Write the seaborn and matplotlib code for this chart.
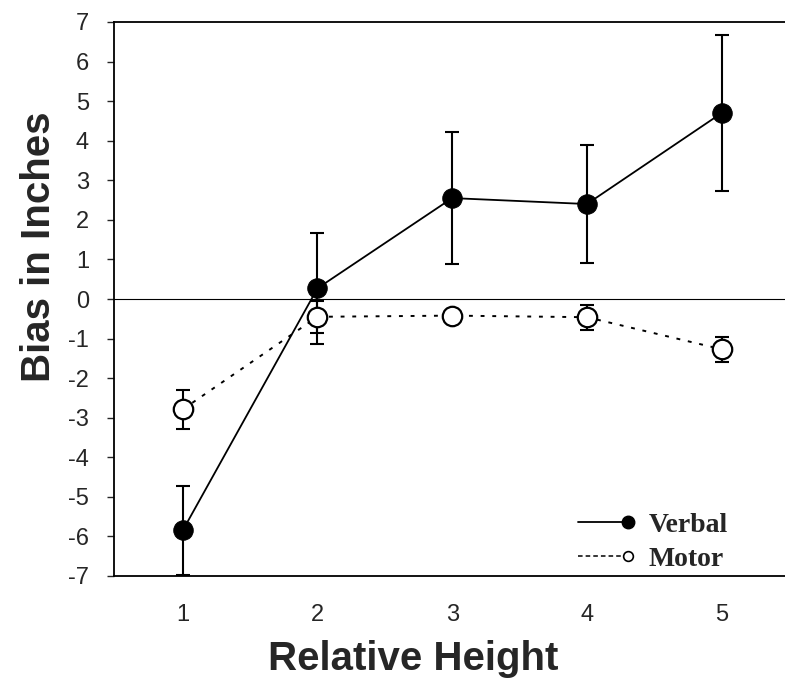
import numpy as np
import pandas as pd
import matplotlib
matplotlib.use("Agg")
import matplotlib.pyplot as plt
from matplotlib.lines import Line2D
from matplotlib.legend_handler import HandlerLine2D
import seaborn as sns

# values
heights = [1, 2, 3, 4, 5]
verbal_mean = [-5.85, 0.27, 2.55, 2.40, 4.70]
verbal_err = [1.12, 1.41, 1.66, 1.48, 1.98]
motor_mean = [-2.79, -0.45, -0.42, -0.46, -1.27]
motor_err = [0.50, 0.40, 0.12, 0.32, 0.31]

df = pd.DataFrame({
    "height": heights * 2,
    "bias": verbal_mean + motor_mean,
    "cond": ["Verbal"] * 5 + ["Motor"] * 5,
})

sns.set_style("white")
plt.rcParams["font.family"] = ["Liberation Sans", "DejaVu Sans"]
plt.rcParams["axes.unicode_minus"] = False


class EndMarkerHandler(HandlerLine2D):
    # line across the handle, marker only at its right end
    def create_artists(self, legend, orig_handle, xdescent, ydescent,
                       width, height, fontsize, trans):
        y = (height - ydescent) / 2
        line = Line2D([-xdescent, width - xdescent], [y, y])
        self.update_prop(line, orig_handle, legend)
        line.set_marker("")
        mark = Line2D([width - xdescent], [y])
        self.update_prop(mark, orig_handle, legend)
        mark.set_linestyle("None")
        line.set_transform(trans)
        mark.set_transform(trans)
        return [line, mark]


fig = plt.figure(figsize=(7.85, 6.81), dpi=100)
ax = fig.add_axes([114 / 785, 1 - 576 / 681, 1 - 114 / 785, (576 - 22) / 681])

ax.axhline(0, color="black", lw=0.8, zorder=1)

# error bars first so markers sit on top
ax.errorbar(heights, verbal_mean, yerr=verbal_err, fmt="none", ecolor="black",
            elinewidth=1.5, capsize=4.7, capthick=1.5, zorder=2)
ax.errorbar(heights, motor_mean, yerr=motor_err, fmt="none", ecolor="black",
            elinewidth=1.5, capsize=4.7, capthick=1.5, zorder=2)

sns.lineplot(data=df[df.cond == "Verbal"], x="height", y="bias", ax=ax,
             color="black", lw=1.3, marker="o", markersize=14,
             markerfacecolor="black", markeredgecolor="black", zorder=3)
sns.lineplot(data=df[df.cond == "Motor"], x="height", y="bias", ax=ax,
             color="black", lw=1.4, linestyle=(0, (2, 4)), marker="o",
             markersize=14, markerfacecolor="white", markeredgecolor="black",
             markeredgewidth=1.6, zorder=3)

ax.set_xlim(0.49, 5.47)
ax.set_ylim(-7, 7)
ax.set_xticks(heights)
ax.set_yticks(range(-7, 8))
ax.tick_params(axis="x", length=0, pad=20, labelsize=17)
ax.tick_params(axis="y", left=True, direction="out", length=5, width=1,
               pad=13, labelsize=17)

for side in ["left", "top", "bottom"]:
    ax.spines[side].set_color("black")
    ax.spines[side].set_linewidth(1.3)
ax.spines["right"].set_visible(False)

ax.set_xlabel("Relative Height", fontsize=29, fontweight="bold")
ax.set_ylabel("Bias in Inches", fontsize=29, fontweight="bold")
ax.xaxis.set_label_coords(0.446, -0.115)
ax.yaxis.set_label_coords(-0.083, 0.594)

h_verbal = Line2D([], [], color="black", lw=1.3, marker="o", markersize=9,
                  markerfacecolor="black")
h_motor = Line2D([], [], color="black", lw=1.1, linestyle=(0, (3, 2)),
                 marker="o", markersize=7, markerfacecolor="white",
                 markeredgewidth=1.2)
ax.legend([h_verbal, h_motor], ["Verbal", "Motor"], loc="lower right",
          bbox_to_anchor=(0.915, 0.008), frameon=False, borderpad=0,
          borderaxespad=0, handlelength=1.8, handletextpad=0.75,
          labelspacing=0.3,
          prop={"family": "Liberation Serif", "weight": "bold", "size": 20},
          handler_map={Line2D: EndMarkerHandler()})

fig.savefig("out.png", dpi=100)
